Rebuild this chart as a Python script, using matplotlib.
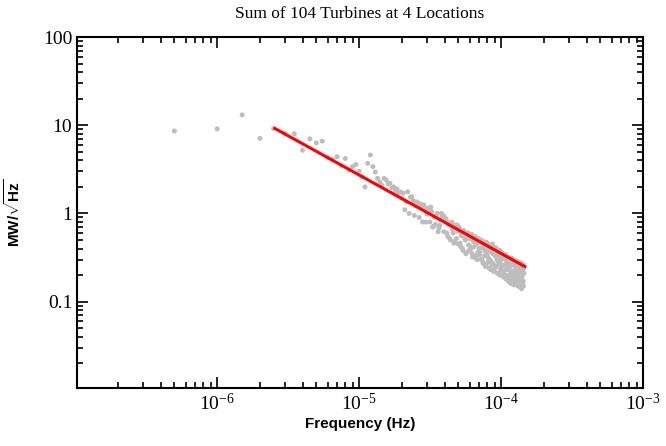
import matplotlib
matplotlib.use("Agg")
import matplotlib.pyplot as plt
from matplotlib import ticker

plt.rcParams['font.family'] = ['Liberation Serif', 'DejaVu Serif']
plt.rcParams['mathtext.fontset'] = 'custom'
plt.rcParams['mathtext.rm'] = 'Liberation Serif'
plt.rcParams['mathtext.bf'] = 'Liberation Sans:bold'
plt.rcParams['mathtext.it'] = 'Liberation Serif:italic'

# frequencies in micro-Hz (whole / half steps)
freq_uHz = [0.5, 1.0, 1.5, 2.0, 2.5, 3.0, 3.5, 4.0, 4.5, 5.0,
            5.5, 6.0, 6.5, 7.0, 7.5, 8.0, 8.5, 9.0, 9.5, 10.0,
            10.5, 11.0, 11.5, 12.0, 12.5, 13.0, 13.5, 14.0, 14.5, 15.0,
            15.5, 16.0, 16.5, 17.0, 17.5, 18.0, 18.5, 19.0, 19.5, 20.0,
            21, 22, 23, 24, 25, 26, 27, 28, 29, 30,
            31, 32, 33, 34, 35, 36, 37, 38, 39, 40,
            41, 42, 43, 44, 45, 46, 47, 48, 49, 50,
            51, 52, 53, 54, 55, 56, 57, 58, 59, 60,
            61, 62, 63, 64, 65, 66, 67, 68, 69, 70,
            71, 72, 73, 74, 75, 76, 77, 78, 79, 80,
            81, 82, 83, 84, 85, 86, 87, 88, 89, 90,
            91, 92, 93, 94, 95, 96, 97, 98, 99, 100,
            101, 102, 103, 104, 105, 106, 107, 108, 109, 110,
            111, 112, 113, 114, 115, 116, 117, 118, 119, 120,
            121, 122, 123, 124, 125, 126, 127, 128, 129, 130,
            131, 132, 133, 134, 135, 136, 137, 138, 139, 140,
            141, 142, 143, 144, 145]

spectrum = [8.6, 9.1, 13.1, 7.1, 9.2, 8.1, 8.0, 5.2, 7.0, 6.3,
            6.6, 4.3, 4.1, 4.4, 3.5, 4.2, 3.1, 3.4, 3.6, 3.0,
            2.6, 2.0, 3.7, 4.6, 3.4, 2.95, 2.5, 2.27, 2.08, 2.5,
            2.4, 2.17, 2.2, 1.95, 2.0, 1.8, 1.9, 1.7, 1.75, 1.5,
            1.1, 1.76, 1.53, 1.4, 1.34, 1.25, 1.29, 0.8, 1.15, 0.99,
            1.05, 1.18, 0.7, 0.91, 0.95, 0.62, 0.73, 1.0, 0.95, 0.91,
            0.86, 0.55, 0.78, 0.5, 0.8, 0.6, 0.48, 0.7, 0.74, 0.45,
            0.68, 0.42, 0.6, 0.38, 0.62, 0.5, 0.36, 0.6, 0.44, 0.52,
            0.42, 0.58, 0.32, 0.48, 0.55, 0.33, 0.5, 0.3, 0.52, 0.4,
            0.36, 0.5, 0.3, 0.46, 0.27, 0.44, 0.38, 0.26, 0.47, 0.33,
            0.28, 0.44, 0.3, 0.41, 0.23, 0.36, 0.45, 0.27, 0.22, 0.4,
            0.33, 0.25, 0.4, 0.21, 0.34, 0.28, 0.38, 0.2, 0.32, 0.24,
            0.36, 0.22, 0.31, 0.19, 0.33, 0.26, 0.2, 0.34, 0.23, 0.3,
            0.19, 0.28, 0.17, 0.31, 0.166, 0.25, 0.29, 0.2, 0.27, 0.18,
            0.3, 0.17, 0.26, 0.2, 0.28, 0.16, 0.24, 0.21, 0.29, 0.19,
            0.24, 0.15, 0.27, 0.19, 0.28, 0.17, 0.22, 0.25, 0.14, 0.2,
            0.27, 0.16, 0.24, 0.15, 0.21]

freq_b_uHz = [20.5, 21.5, 22.5, 23.5, 24.5, 25.5, 26.5, 27.5, 28.5, 29.5,
              30.5, 31.5, 32.5, 33.5, 34.5, 35.5, 36.5, 37.5, 38.5, 39.5,
              40.5, 41.5, 42.5, 43.5, 44.5, 45.5, 46.5, 47.5, 48.5, 49.5,
              50.5, 51.5, 52.5, 53.5, 54.5, 55.5, 56.5, 57.5, 58.5, 59.5,
              60.5, 61.5, 62.5, 63.5, 64.5, 65.5, 66.5, 67.5, 68.5, 69.5,
              70.5, 71.5, 72.5, 73.5, 74.5, 75.5, 76.5, 77.5, 78.5, 79.5,
              80.5, 81.5, 82.5, 83.5, 84.5, 85.5, 86.5, 87.5, 88.5, 89.5,
              90.5, 91.5, 92.5, 93.5, 94.5, 95.5, 96.5, 97.5, 98.5, 99.5,
              100.5, 101.5, 102.5, 103.5, 104.5, 105.5, 106.5, 107.5, 108.5, 109.5,
              110.5, 111.5, 112.5, 113.5, 114.5, 115.5, 116.5, 117.5, 118.5, 119.5,
              120.5, 121.5, 122.5, 123.5, 124.5, 125.5, 126.5, 127.5, 128.5, 129.5,
              130.5, 131.5, 132.5, 133.5, 134.5, 135.5, 136.5, 137.5, 138.5, 139.5,
              140.5, 141.5, 142.5, 143.5, 144.5]

spectrum_b = [1.7, 1.35, 1.0, 1.55, 0.95, 1.35, 0.9, 1.2, 1.25, 0.8,
              1.15, 0.8, 1.05, 0.72, 0.75, 1.0, 0.68, 0.85, 0.9, 0.62,
              0.88, 0.6, 0.75, 0.52, 0.72, 0.66, 0.46, 0.74, 0.52, 0.63,
              0.7, 0.46, 0.56, 0.4, 0.64, 0.52, 0.35, 0.58, 0.6, 0.38,
              0.55, 0.4, 0.35, 0.5, 0.42, 0.55, 0.31, 0.45, 0.36, 0.5,
              0.34, 0.47, 0.3, 0.41, 0.28, 0.48, 0.33, 0.25, 0.42, 0.36,
              0.45, 0.31, 0.24, 0.39, 0.29, 0.42, 0.26, 0.35, 0.41, 0.23,
              0.34, 0.41, 0.25, 0.3, 0.37, 0.21, 0.33, 0.27, 0.38, 0.23,
              0.3, 0.2, 0.35, 0.26, 0.22, 0.31, 0.34, 0.23, 0.18, 0.28,
              0.25, 0.32, 0.2, 0.23, 0.3, 0.18, 0.27, 0.16, 0.22, 0.31,
              0.2, 0.27, 0.22, 0.155, 0.29, 0.23, 0.18, 0.28, 0.17, 0.25,
              0.21, 0.28, 0.18, 0.23, 0.15, 0.26, 0.19, 0.24, 0.16, 0.27,
              0.19, 0.15, 0.23, 0.17, 0.26]

fit_freq = [2.55e-6, 1.47e-4]
fit_val = [9.2, 0.25]

freq = [f * 1e-6 for f in freq_uHz]
freq_b = [f * 1e-6 for f in freq_b_uHz]

fig = plt.figure(figsize=(6.66, 4.46), dpi=100)
ax = fig.add_axes([0.1156, 0.130, 0.8499, 0.787])

ax.scatter(freq, spectrum, s=13, color='#bdbdbd', edgecolors='none', zorder=2)
ax.scatter(freq_b, spectrum_b, s=13, color='#bdbdbd', edgecolors='none', zorder=2)
ax.plot(fit_freq, fit_val, color='#ff0000', lw=2.2, zorder=3)

ax.set_xscale('log')
ax.set_yscale('log')
ax.set_xlim(1.03e-7, 1e-3)
ax.set_ylim(0.0105, 100)

ax.yaxis.set_major_locator(ticker.FixedLocator([0.1, 1, 10, 100]))
ax.yaxis.set_major_formatter(ticker.FuncFormatter(lambda v, p: f'{v:g}'))
ax.yaxis.set_minor_locator(ticker.LogLocator(base=10, subs=range(2, 10), numticks=20))
ax.yaxis.set_minor_formatter(ticker.NullFormatter())
ax.xaxis.set_major_locator(ticker.FixedLocator([1e-6, 1e-5, 1e-4, 1e-3]))
ax.xaxis.set_major_formatter(ticker.LogFormatterSciNotation())
ax.xaxis.set_minor_locator(ticker.LogLocator(base=10, subs=range(2, 10), numticks=20))
ax.xaxis.set_minor_formatter(ticker.NullFormatter())

ax.tick_params(which='both', direction='in', top=True, right=True, labelsize=14, width=1.2)
ax.tick_params(which='major', length=8)
ax.tick_params(which='minor', length=4)
for s in ax.spines.values():
    s.set_linewidth(1.5)

ax.set_title('Sum of 104 Turbines at 4 Locations', fontsize=12.5, pad=14)
ax.set_xlabel('Frequency (Hz)', fontsize=11, fontweight='bold',
              family=['Liberation Sans', 'DejaVu Sans'], labelpad=2)
ax.set_ylabel(r'MW/$\mathbf{\sqrt{Hz}}$', fontsize=11, fontweight='bold',
              family=['Liberation Sans', 'DejaVu Sans'], labelpad=14)

fig.savefig('out.png', dpi=100)
